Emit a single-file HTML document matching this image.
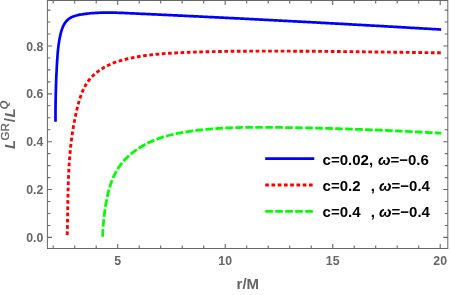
<!DOCTYPE html>
<html><head><meta charset="utf-8"><title>Plot</title>
<style>
html,body{margin:0;padding:0;background:#fff;}
body{width:450px;height:295px;overflow:hidden;font-family:"Liberation Sans",sans-serif;}
svg{display:block;will-change:transform;font-family:"Liberation Sans",sans-serif;}
</style></head><body>
<svg width="450" height="295" viewBox="0 0 450 295">
<rect width="450" height="295" fill="#ffffff"/>
<rect x="47.4" y="0.5" width="400.40000000000003" height="248.0" fill="none" stroke="#666666" stroke-width="1"/>
<path d="M53.20,248.5 v-3.0 M53.20,0.5 v3.0 M74.70,248.5 v-3.0 M74.70,0.5 v3.0 M96.20,248.5 v-3.0 M96.20,0.5 v3.0 M117.70,248.5 v-4.5 M117.70,0.5 v4.5 M139.20,248.5 v-3.0 M139.20,0.5 v3.0 M160.70,248.5 v-3.0 M160.70,0.5 v3.0 M182.20,248.5 v-3.0 M182.20,0.5 v3.0 M203.70,248.5 v-3.0 M203.70,0.5 v3.0 M225.20,248.5 v-4.5 M225.20,0.5 v4.5 M246.70,248.5 v-3.0 M246.70,0.5 v3.0 M268.20,248.5 v-3.0 M268.20,0.5 v3.0 M289.70,248.5 v-3.0 M289.70,0.5 v3.0 M311.20,248.5 v-3.0 M311.20,0.5 v3.0 M332.70,248.5 v-4.5 M332.70,0.5 v4.5 M354.20,248.5 v-3.0 M354.20,0.5 v3.0 M375.70,248.5 v-3.0 M375.70,0.5 v3.0 M397.20,248.5 v-3.0 M397.20,0.5 v3.0 M418.70,248.5 v-3.0 M418.70,0.5 v3.0 M440.20,248.5 v-4.5 M440.20,0.5 v4.5 M47.4,237.40 h4.5 M447.8,237.40 h-4.5 M47.4,225.44 h3.0 M447.8,225.44 h-3.0 M47.4,213.47 h3.0 M447.8,213.47 h-3.0 M47.4,201.51 h3.0 M447.8,201.51 h-3.0 M47.4,189.55 h4.5 M447.8,189.55 h-4.5 M47.4,177.59 h3.0 M447.8,177.59 h-3.0 M47.4,165.62 h3.0 M447.8,165.62 h-3.0 M47.4,153.66 h3.0 M447.8,153.66 h-3.0 M47.4,141.70 h4.5 M447.8,141.70 h-4.5 M47.4,129.74 h3.0 M447.8,129.74 h-3.0 M47.4,117.78 h3.0 M447.8,117.78 h-3.0 M47.4,105.81 h3.0 M447.8,105.81 h-3.0 M47.4,93.85 h4.5 M447.8,93.85 h-4.5 M47.4,81.89 h3.0 M447.8,81.89 h-3.0 M47.4,69.92 h3.0 M447.8,69.92 h-3.0 M47.4,57.96 h3.0 M447.8,57.96 h-3.0 M47.4,46.00 h4.5 M447.8,46.00 h-4.5 M47.4,34.04 h3.0 M447.8,34.04 h-3.0 M47.4,22.07 h3.0 M447.8,22.07 h-3.0 M47.4,10.11 h3.0 M447.8,10.11 h-3.0" stroke="#666666" stroke-width="1.1" fill="none"/>
<path d="M55.50,121.70 L55.50,120.51 L55.50,119.32 L55.50,118.12 L55.50,116.93 L55.50,115.73 L55.50,114.53 L55.51,113.33 L55.52,112.13 L55.52,110.93 L55.53,109.73 L55.54,108.53 L55.55,107.33 L55.56,106.13 L55.58,104.92 L55.59,103.72 L55.61,102.51 L55.63,101.31 L55.65,100.10 L55.67,98.90 L55.69,97.69 L55.71,96.49 L55.74,95.28 L55.76,94.07 L55.79,92.87 L55.82,91.66 L55.85,90.45 L55.89,89.25 L55.92,88.04 L55.96,86.83 L55.99,85.63 L56.03,84.42 L56.07,83.22 L56.12,82.01 L56.16,80.81 L56.21,79.60 L56.25,78.40 L56.30,77.20 L56.35,76.00 L56.41,74.79 L56.46,73.59 L56.52,72.39 L56.58,71.19 L56.64,70.00 L56.70,68.80 L56.76,67.60 L56.83,66.41 L56.89,65.21 L56.96,64.02 L57.04,62.83 L57.11,61.64 L57.19,60.45 L57.26,59.26 L57.34,58.08 L57.43,56.89 L57.51,55.71 L57.60,54.52 L57.70,53.34 L57.80,52.16 L57.91,50.98 L58.03,49.79 L58.16,48.61 L58.29,47.42 L58.43,46.24 L58.59,45.05 L58.75,43.87 L58.93,42.68 L59.11,41.49 L59.32,40.29 L59.53,39.10 L59.76,37.90 L60.00,36.70 L60.26,35.50 L60.54,34.29 L60.84,33.09 L61.15,31.88 L61.50,30.69 L61.87,29.50 L62.28,28.33 L62.73,27.18 L63.22,26.06 L63.77,24.97 L64.36,23.92 L65.01,22.91 L65.71,21.94 L66.47,21.04 L67.29,20.20 L68.15,19.43 L69.06,18.73 L70.02,18.11 L71.02,17.54 L72.05,17.03 L73.12,16.57 L74.22,16.17 L75.35,15.80 L76.49,15.48 L77.66,15.19 L78.84,14.93 L80.03,14.70 L81.23,14.49 L82.44,14.30 L83.64,14.12 L84.85,13.95 L86.05,13.79 L87.25,13.65 L88.46,13.51 L89.66,13.39 L90.86,13.27 L92.07,13.17 L93.27,13.08 L94.47,12.99 L95.67,12.92 L96.88,12.85 L98.08,12.79 L99.28,12.74 L100.48,12.70 L101.68,12.66 L102.88,12.63 L104.09,12.61 L105.29,12.60 L106.49,12.59 L107.69,12.59 L108.89,12.59 L110.09,12.60 L111.29,12.61 L112.49,12.63 L113.69,12.66 L114.89,12.69 L116.09,12.72 L117.29,12.75 L118.49,12.79 L119.69,12.83 L120.89,12.88 L122.09,12.92 L123.29,12.97 L124.49,13.02 L125.69,13.07 L126.89,13.13 L128.09,13.18 L129.29,13.23 L130.49,13.29 L131.69,13.34 L132.89,13.40 L134.09,13.45 L135.29,13.51 L136.49,13.56 L137.69,13.62 L138.89,13.67 L140.09,13.73 L141.29,13.78 L142.49,13.84 L143.69,13.89 L144.89,13.95 L146.08,14.01 L147.28,14.06 L148.48,14.12 L149.68,14.17 L150.88,14.23 L152.08,14.28 L153.28,14.34 L154.48,14.40 L155.68,14.45 L156.88,14.51 L158.08,14.56 L159.28,14.62 L160.48,14.68 L161.68,14.73 L162.88,14.79 L164.08,14.84 L165.28,14.90 L166.48,14.96 L167.68,15.01 L168.88,15.07 L170.08,15.13 L171.28,15.18 L172.48,15.24 L173.68,15.30 L174.88,15.36 L176.08,15.41 L177.28,15.47 L178.48,15.53 L179.68,15.58 L180.88,15.64 L182.08,15.70 L183.28,15.76 L184.48,15.81 L185.68,15.87 L186.88,15.93 L188.08,15.99 L189.28,16.04 L190.48,16.10 L191.68,16.16 L192.88,16.22 L194.08,16.28 L195.28,16.33 L196.48,16.39 L197.68,16.45 L198.88,16.51 L200.08,16.57 L201.28,16.62 L202.48,16.68 L203.68,16.74 L204.88,16.80 L206.08,16.86 L207.28,16.92 L208.48,16.98 L209.68,17.03 L210.88,17.09 L212.08,17.15 L213.28,17.21 L214.48,17.27 L215.68,17.33 L216.88,17.39 L218.08,17.45 L219.28,17.51 L220.47,17.57 L221.67,17.63 L222.87,17.69 L224.07,17.74 L225.27,17.80 L226.47,17.86 L227.67,17.92 L228.87,17.98 L230.07,18.04 L231.27,18.10 L232.47,18.16 L233.67,18.22 L234.87,18.28 L236.07,18.34 L237.27,18.40 L238.47,18.46 L239.67,18.52 L240.87,18.59 L242.07,18.65 L243.27,18.71 L244.47,18.77 L245.67,18.83 L246.87,18.89 L248.07,18.95 L249.27,19.01 L250.47,19.07 L251.67,19.13 L252.87,19.19 L254.07,19.25 L255.27,19.31 L256.47,19.38 L257.67,19.44 L258.87,19.50 L260.07,19.56 L261.27,19.62 L262.47,19.68 L263.67,19.74 L264.87,19.81 L266.07,19.87 L267.27,19.93 L268.47,19.99 L269.67,20.05 L270.87,20.12 L272.07,20.18 L273.27,20.24 L274.47,20.30 L275.67,20.36 L276.87,20.43 L278.07,20.49 L279.27,20.55 L280.47,20.61 L281.67,20.68 L282.87,20.74 L284.07,20.80 L285.27,20.86 L286.47,20.93 L287.67,20.99 L288.87,21.05 L290.07,21.12 L291.27,21.18 L292.47,21.24 L293.67,21.31 L294.87,21.37 L296.07,21.43 L297.27,21.50 L298.47,21.56 L299.66,21.62 L300.86,21.69 L302.06,21.75 L303.26,21.81 L304.46,21.88 L305.66,21.94 L306.86,22.00 L308.06,22.07 L309.26,22.13 L310.46,22.20 L311.66,22.26 L312.86,22.32 L314.06,22.39 L315.26,22.45 L316.46,22.52 L317.66,22.58 L318.86,22.65 L320.06,22.71 L321.26,22.78 L322.46,22.84 L323.66,22.90 L324.86,22.97 L326.06,23.03 L327.26,23.10 L328.46,23.16 L329.66,23.23 L330.86,23.29 L332.06,23.36 L333.26,23.42 L334.46,23.49 L335.66,23.56 L336.86,23.62 L338.06,23.69 L339.26,23.75 L340.45,23.82 L341.65,23.88 L342.85,23.95 L344.05,24.01 L345.25,24.08 L346.45,24.15 L347.65,24.21 L348.85,24.28 L350.05,24.34 L351.25,24.41 L352.45,24.48 L353.65,24.54 L354.85,24.61 L356.05,24.68 L357.25,24.74 L358.45,24.81 L359.65,24.88 L360.85,24.94 L362.05,25.01 L363.25,25.08 L364.45,25.14 L365.65,25.21 L366.85,25.28 L368.04,25.34 L369.24,25.41 L370.44,25.48 L371.64,25.54 L372.84,25.61 L374.04,25.68 L375.24,25.75 L376.44,25.81 L377.64,25.88 L378.84,25.95 L380.04,26.02 L381.24,26.08 L382.44,26.15 L383.64,26.22 L384.84,26.29 L386.04,26.36 L387.24,26.42 L388.44,26.49 L389.63,26.56 L390.83,26.63 L392.03,26.70 L393.23,26.77 L394.43,26.83 L395.63,26.90 L396.83,26.97 L398.03,27.04 L399.23,27.11 L400.43,27.18 L401.63,27.25 L402.83,27.31 L404.03,27.38 L405.23,27.45 L406.43,27.52 L407.62,27.59 L408.82,27.66 L410.02,27.73 L411.22,27.80 L412.42,27.87 L413.62,27.94 L414.82,28.01 L416.02,28.08 L417.22,28.15 L418.42,28.22 L419.62,28.28 L420.82,28.35 L422.01,28.42 L423.21,28.49 L424.41,28.56 L425.61,28.63 L426.81,28.70 L428.01,28.77 L429.21,28.84 L430.41,28.91 L431.61,28.99 L432.81,29.06 L434.01,29.13 L435.20,29.20 L436.40,29.27 L437.60,29.34 L438.80,29.41 L440.00,29.48 L441.20,29.55" fill="none" stroke="#0000ff" stroke-width="2.7" stroke-linejoin="round"/>
<path d="M67.20,235.10 L67.24,233.81 L67.27,232.53 L67.31,231.24 L67.34,229.95 L67.37,228.66 L67.40,227.37 L67.43,226.08 L67.46,224.79 L67.48,223.49 L67.51,222.20 L67.53,220.91 L67.56,219.61 L67.58,218.32 L67.60,217.02 L67.63,215.72 L67.65,214.43 L67.67,213.13 L67.69,211.83 L67.71,210.53 L67.73,209.23 L67.76,207.93 L67.78,206.63 L67.80,205.33 L67.82,204.03 L67.84,202.73 L67.87,201.43 L67.89,200.13 L67.91,198.83 L67.94,197.53 L67.97,196.23 L67.99,194.93 L68.02,193.63 L68.05,192.33 L68.08,191.02 L68.12,189.72 L68.15,188.42 L68.19,187.12 L68.22,185.82 L68.26,184.52 L68.30,183.22 L68.35,181.92 L68.39,180.62 L68.44,179.32 L68.49,178.02 L68.54,176.72 L68.60,175.42 L68.65,174.12 L68.71,172.82 L68.78,171.52 L68.84,170.23 L68.91,168.93 L68.98,167.63 L69.05,166.34 L69.13,165.04 L69.21,163.75 L69.30,162.46 L69.39,161.16 L69.48,159.87 L69.57,158.58 L69.67,157.29 L69.78,156.00 L69.88,154.71 L69.99,153.42 L70.11,152.13 L70.23,150.85 L70.35,149.56 L70.48,148.27 L70.61,146.99 L70.75,145.71 L70.89,144.43 L71.04,143.15 L71.19,141.87 L71.35,140.59 L71.51,139.31 L71.68,138.04 L71.85,136.76 L72.03,135.49 L72.21,134.21 L72.40,132.94 L72.60,131.67 L72.80,130.39 L73.00,129.12 L73.21,127.85 L73.43,126.58 L73.65,125.31 L73.88,124.04 L74.12,122.77 L74.36,121.49 L74.60,120.22 L74.85,118.95 L75.11,117.68 L75.38,116.41 L75.65,115.13 L75.93,113.86 L76.21,112.59 L76.50,111.31 L76.80,110.04 L77.10,108.76 L77.41,107.48 L77.73,106.20 L78.06,104.93 L78.40,103.66 L78.75,102.39 L79.11,101.12 L79.48,99.86 L79.87,98.61 L80.28,97.36 L80.70,96.12 L81.14,94.90 L81.59,93.68 L82.07,92.47 L82.57,91.28 L83.08,90.09 L83.63,88.93 L84.19,87.77 L84.78,86.64 L85.39,85.52 L86.04,84.42 L86.71,83.34 L87.40,82.28 L88.13,81.24 L88.89,80.22 L89.68,79.23 L90.50,78.26 L91.36,77.31 L92.24,76.39 L93.15,75.49 L94.08,74.61 L95.05,73.76 L96.03,72.92 L97.04,72.12 L98.08,71.33 L99.13,70.57 L100.20,69.83 L101.29,69.11 L102.40,68.42 L103.53,67.75 L104.67,67.10 L105.82,66.47 L106.99,65.87 L108.17,65.29 L109.36,64.73 L110.56,64.19 L111.76,63.67 L112.98,63.18 L114.19,62.71 L115.42,62.26 L116.65,61.83 L117.88,61.42 L119.11,61.03 L120.35,60.66 L121.60,60.31 L122.84,59.96 L124.09,59.64 L125.35,59.33 L126.60,59.03 L127.86,58.74 L129.12,58.46 L130.39,58.19 L131.65,57.93 L132.92,57.67 L134.19,57.42 L135.46,57.18 L136.74,56.95 L138.01,56.72 L139.29,56.50 L140.57,56.29 L141.85,56.08 L143.13,55.88 L144.41,55.69 L145.69,55.51 L146.98,55.34 L148.26,55.17 L149.55,55.01 L150.83,54.86 L152.12,54.71 L153.41,54.57 L154.70,54.44 L155.99,54.31 L157.28,54.19 L158.57,54.07 L159.86,53.96 L161.15,53.86 L162.44,53.76 L163.73,53.66 L165.03,53.57 L166.32,53.48 L167.61,53.39 L168.91,53.31 L170.20,53.23 L171.50,53.16 L172.79,53.08 L174.09,53.01 L175.38,52.94 L176.68,52.88 L177.97,52.81 L179.27,52.75 L180.56,52.68 L181.86,52.62 L183.15,52.57 L184.45,52.51 L185.74,52.45 L187.04,52.40 L188.33,52.35 L189.63,52.29 L190.92,52.25 L192.22,52.20 L193.51,52.15 L194.81,52.11 L196.10,52.06 L197.40,52.02 L198.70,51.98 L199.99,51.94 L201.29,51.90 L202.58,51.86 L203.88,51.83 L205.18,51.79 L206.47,51.76 L207.77,51.73 L209.06,51.69 L210.36,51.66 L211.65,51.63 L212.95,51.61 L214.25,51.58 L215.54,51.55 L216.84,51.53 L218.14,51.51 L219.43,51.48 L220.73,51.46 L222.02,51.44 L223.32,51.42 L224.62,51.40 L225.91,51.38 L227.21,51.37 L228.51,51.35 L229.80,51.33 L231.10,51.32 L232.39,51.30 L233.69,51.29 L234.99,51.28 L236.28,51.27 L237.58,51.25 L238.88,51.24 L240.17,51.23 L241.47,51.22 L242.77,51.21 L244.06,51.21 L245.36,51.20 L246.66,51.19 L247.95,51.18 L249.25,51.18 L250.54,51.17 L251.84,51.16 L253.14,51.16 L254.43,51.15 L255.73,51.15 L257.03,51.15 L258.32,51.14 L259.62,51.14 L260.92,51.14 L262.21,51.13 L263.51,51.13 L264.80,51.13 L266.10,51.13 L267.40,51.13 L268.69,51.13 L269.99,51.13 L271.29,51.13 L272.58,51.13 L273.88,51.13 L275.18,51.13 L276.47,51.13 L277.77,51.13 L279.06,51.13 L280.36,51.14 L281.66,51.14 L282.95,51.14 L284.25,51.14 L285.55,51.15 L286.84,51.15 L288.14,51.16 L289.44,51.16 L290.73,51.17 L292.03,51.17 L293.32,51.18 L294.62,51.18 L295.92,51.19 L297.21,51.20 L298.51,51.20 L299.81,51.21 L301.10,51.22 L302.40,51.22 L303.70,51.23 L304.99,51.24 L306.29,51.25 L307.58,51.26 L308.88,51.27 L310.18,51.27 L311.47,51.28 L312.77,51.29 L314.07,51.30 L315.36,51.31 L316.66,51.32 L317.95,51.33 L319.25,51.34 L320.55,51.36 L321.84,51.37 L323.14,51.38 L324.44,51.39 L325.73,51.40 L327.03,51.41 L328.32,51.43 L329.62,51.44 L330.92,51.45 L332.21,51.46 L333.51,51.48 L334.81,51.49 L336.10,51.50 L337.40,51.52 L338.69,51.53 L339.99,51.54 L341.29,51.56 L342.58,51.57 L343.88,51.58 L345.18,51.60 L346.47,51.61 L347.77,51.63 L349.06,51.64 L350.36,51.66 L351.66,51.67 L352.95,51.69 L354.25,51.70 L355.55,51.72 L356.84,51.73 L358.14,51.75 L359.43,51.77 L360.73,51.78 L362.03,51.80 L363.32,51.81 L364.62,51.83 L365.92,51.84 L367.21,51.86 L368.51,51.88 L369.80,51.89 L371.10,51.91 L372.40,51.93 L373.69,51.94 L374.99,51.96 L376.29,51.98 L377.58,51.99 L378.88,52.01 L380.17,52.03 L381.47,52.04 L382.77,52.06 L384.06,52.08 L385.36,52.09 L386.66,52.11 L387.95,52.13 L389.25,52.15 L390.54,52.16 L391.84,52.18 L393.14,52.20 L394.43,52.21 L395.73,52.23 L397.03,52.25 L398.32,52.27 L399.62,52.28 L400.91,52.30 L402.21,52.32 L403.51,52.33 L404.80,52.35 L406.10,52.37 L407.40,52.38 L408.69,52.40 L409.99,52.42 L411.29,52.43 L412.58,52.45 L413.88,52.47 L415.17,52.48 L416.47,52.50 L417.77,52.52 L419.06,52.53 L420.36,52.55 L421.66,52.57 L422.95,52.58 L424.25,52.60 L425.54,52.62 L426.84,52.63 L428.14,52.65 L429.43,52.66 L430.73,52.68 L432.03,52.69 L433.32,52.71 L434.62,52.73 L435.91,52.74 L437.21,52.76 L438.51,52.77 L439.80,52.79 L441.10,52.80" fill="none" stroke="#ff0000" stroke-width="2.9" stroke-dasharray="3.7 2.559" stroke-linejoin="round"/>
<path d="M102.60,236.70 L102.64,235.69 L102.69,234.67 L102.74,233.65 L102.79,232.64 L102.84,231.62 L102.90,230.61 L102.96,229.59 L103.03,228.58 L103.09,227.56 L103.17,226.55 L103.24,225.53 L103.32,224.52 L103.40,223.50 L103.49,222.49 L103.58,221.47 L103.68,220.46 L103.78,219.45 L103.88,218.43 L103.99,217.42 L104.10,216.41 L104.22,215.40 L104.35,214.39 L104.47,213.38 L104.61,212.37 L104.75,211.36 L104.89,210.35 L105.04,209.34 L105.19,208.34 L105.35,207.33 L105.51,206.33 L105.68,205.33 L105.86,204.32 L106.03,203.32 L106.21,202.32 L106.40,201.33 L106.59,200.33 L106.78,199.34 L106.97,198.34 L107.17,197.35 L107.38,196.36 L107.59,195.38 L107.80,194.39 L108.03,193.41 L108.26,192.42 L108.50,191.44 L108.76,190.46 L109.02,189.48 L109.29,188.50 L109.58,187.52 L109.88,186.54 L110.19,185.57 L110.51,184.60 L110.84,183.63 L111.18,182.67 L111.54,181.71 L111.91,180.75 L112.29,179.80 L112.68,178.86 L113.08,177.92 L113.50,176.98 L113.93,176.05 L114.37,175.13 L114.82,174.21 L115.29,173.31 L115.77,172.41 L116.26,171.51 L116.77,170.63 L117.29,169.75 L117.82,168.88 L118.37,168.03 L118.93,167.18 L119.50,166.34 L120.08,165.51 L120.68,164.69 L121.30,163.89 L121.93,163.09 L122.57,162.31 L123.22,161.54 L123.89,160.78 L124.57,160.03 L125.26,159.29 L125.96,158.56 L126.68,157.84 L127.41,157.14 L128.14,156.44 L128.89,155.76 L129.65,155.08 L130.42,154.42 L131.20,153.76 L131.98,153.12 L132.78,152.49 L133.58,151.87 L134.40,151.25 L135.22,150.65 L136.05,150.06 L136.88,149.48 L137.73,148.90 L138.58,148.34 L139.44,147.79 L140.30,147.25 L141.17,146.71 L142.05,146.19 L142.93,145.68 L143.82,145.18 L144.71,144.68 L145.61,144.20 L146.52,143.73 L147.43,143.26 L148.34,142.81 L149.26,142.37 L150.19,141.94 L151.11,141.51 L152.05,141.10 L152.98,140.70 L153.92,140.30 L154.86,139.92 L155.81,139.55 L156.76,139.18 L157.71,138.83 L158.66,138.48 L159.62,138.15 L160.58,137.82 L161.55,137.50 L162.51,137.19 L163.48,136.89 L164.45,136.59 L165.43,136.31 L166.40,136.03 L167.38,135.76 L168.36,135.50 L169.34,135.24 L170.33,134.99 L171.31,134.75 L172.30,134.52 L173.29,134.29 L174.28,134.07 L175.28,133.85 L176.27,133.64 L177.27,133.44 L178.27,133.24 L179.27,133.05 L180.27,132.86 L181.27,132.68 L182.27,132.51 L183.28,132.33 L184.28,132.17 L185.29,132.01 L186.29,131.85 L187.30,131.69 L188.31,131.54 L189.32,131.40 L190.33,131.25 L191.33,131.11 L192.34,130.98 L193.35,130.85 L194.36,130.72 L195.37,130.59 L196.38,130.46 L197.40,130.34 L198.41,130.23 L199.42,130.11 L200.43,130.00 L201.44,129.89 L202.45,129.78 L203.46,129.68 L204.47,129.58 L205.49,129.48 L206.50,129.38 L207.51,129.29 L208.52,129.20 L209.54,129.11 L210.55,129.02 L211.56,128.94 L212.58,128.86 L213.59,128.78 L214.60,128.70 L215.62,128.63 L216.63,128.56 L217.65,128.49 L218.66,128.42 L219.67,128.36 L220.69,128.30 L221.70,128.24 L222.72,128.18 L223.73,128.12 L224.75,128.07 L225.76,128.02 L226.78,127.97 L227.79,127.92 L228.81,127.88 L229.82,127.83 L230.84,127.79 L231.86,127.75 L232.87,127.71 L233.89,127.68 L234.90,127.64 L235.92,127.61 L236.94,127.58 L237.95,127.55 L238.97,127.52 L239.99,127.50 L241.00,127.47 L242.02,127.45 L243.04,127.43 L244.05,127.41 L245.07,127.39 L246.09,127.37 L247.10,127.36 L248.12,127.35 L249.14,127.33 L250.16,127.32 L251.17,127.31 L252.19,127.30 L253.21,127.30 L254.23,127.29 L255.24,127.28 L256.26,127.28 L257.28,127.28 L258.30,127.28 L259.31,127.28 L260.33,127.28 L261.35,127.28 L262.37,127.28 L263.38,127.28 L264.40,127.29 L265.42,127.29 L266.44,127.30 L267.46,127.31 L268.47,127.31 L269.49,127.32 L270.51,127.33 L271.53,127.34 L272.55,127.35 L273.56,127.36 L274.58,127.37 L275.60,127.39 L276.62,127.40 L277.64,127.41 L278.65,127.42 L279.67,127.44 L280.69,127.45 L281.71,127.47 L282.73,127.48 L283.74,127.50 L284.76,127.51 L285.78,127.53 L286.80,127.55 L287.82,127.56 L288.83,127.58 L289.85,127.60 L290.87,127.61 L291.89,127.63 L292.90,127.65 L293.92,127.67 L294.94,127.69 L295.96,127.70 L296.97,127.72 L297.99,127.74 L299.01,127.76 L300.03,127.78 L301.04,127.80 L302.06,127.82 L303.08,127.84 L304.09,127.86 L305.11,127.88 L306.13,127.90 L307.15,127.93 L308.16,127.95 L309.18,127.97 L310.20,127.99 L311.22,128.01 L312.23,128.04 L313.25,128.06 L314.27,128.08 L315.28,128.11 L316.30,128.13 L317.32,128.15 L318.33,128.18 L319.35,128.20 L320.37,128.23 L321.38,128.25 L322.40,128.28 L323.42,128.30 L324.44,128.33 L325.45,128.36 L326.47,128.38 L327.49,128.41 L328.50,128.44 L329.52,128.46 L330.54,128.49 L331.55,128.52 L332.57,128.55 L333.59,128.58 L334.60,128.60 L335.62,128.63 L336.64,128.66 L337.65,128.69 L338.67,128.72 L339.69,128.75 L340.70,128.78 L341.72,128.81 L342.73,128.84 L343.75,128.87 L344.77,128.91 L345.78,128.94 L346.80,128.97 L347.82,129.00 L348.83,129.03 L349.85,129.07 L350.87,129.10 L351.88,129.13 L352.90,129.17 L353.91,129.20 L354.93,129.24 L355.95,129.27 L356.96,129.31 L357.98,129.34 L359.00,129.38 L360.01,129.41 L361.03,129.45 L362.04,129.48 L363.06,129.52 L364.08,129.56 L365.09,129.59 L366.11,129.63 L367.13,129.67 L368.14,129.71 L369.16,129.75 L370.17,129.78 L371.19,129.82 L372.21,129.86 L373.22,129.90 L374.24,129.94 L375.25,129.98 L376.27,130.02 L377.29,130.06 L378.30,130.10 L379.32,130.14 L380.34,130.19 L381.35,130.23 L382.37,130.27 L383.38,130.31 L384.40,130.36 L385.42,130.40 L386.43,130.44 L387.45,130.49 L388.46,130.53 L389.48,130.57 L390.50,130.62 L391.51,130.66 L392.53,130.71 L393.54,130.75 L394.56,130.80 L395.58,130.85 L396.59,130.89 L397.61,130.94 L398.62,130.99 L399.64,131.03 L400.66,131.08 L401.67,131.13 L402.69,131.18 L403.70,131.23 L404.72,131.28 L405.74,131.32 L406.75,131.37 L407.77,131.42 L408.78,131.47 L409.80,131.53 L410.82,131.58 L411.83,131.63 L412.85,131.68 L413.86,131.73 L414.88,131.78 L415.90,131.83 L416.91,131.89 L417.93,131.94 L418.94,131.99 L419.96,132.05 L420.98,132.10 L421.99,132.16 L423.01,132.21 L424.03,132.27 L425.04,132.32 L426.06,132.38 L427.07,132.43 L428.09,132.49 L429.11,132.55 L430.12,132.60 L431.14,132.66 L432.15,132.72 L433.17,132.78 L434.19,132.83 L435.20,132.89 L436.22,132.95 L437.24,133.01 L438.25,133.07 L439.27,133.13 L440.28,133.19 L441.30,133.25" fill="none" stroke="#00ff00" stroke-width="2.8" stroke-dasharray="7.7 2.286" stroke-linejoin="round"/>
<path d="M265.2,158.7 H314.3" stroke="#0000ff" stroke-width="2.7"/>
<path d="M265.2,185 H314.3" stroke="#ff0000" stroke-width="2.9" stroke-dasharray="3.7 2.55"/>
<path d="M265.2,211.3 H314.3" stroke="#00ff00" stroke-width="2.8" stroke-dasharray="7.7 2.3"/>
<text x="43.3" y="241.90" text-anchor="end" font-size="12.3" font-weight="bold" fill="#666666">0.0</text>
<text x="43.3" y="194.05" text-anchor="end" font-size="12.3" font-weight="bold" fill="#666666">0.2</text>
<text x="43.3" y="146.20" text-anchor="end" font-size="12.3" font-weight="bold" fill="#666666">0.4</text>
<text x="43.3" y="98.35" text-anchor="end" font-size="12.3" font-weight="bold" fill="#666666">0.6</text>
<text x="43.3" y="50.50" text-anchor="end" font-size="12.3" font-weight="bold" fill="#666666">0.8</text>
<text x="117.70" y="264.8" text-anchor="middle" font-size="12.3" font-weight="bold" fill="#666666">5</text>
<text x="225.20" y="264.8" text-anchor="middle" font-size="12.3" font-weight="bold" fill="#666666">10</text>
<text x="332.70" y="264.8" text-anchor="middle" font-size="12.3" font-weight="bold" fill="#666666">15</text>
<text x="440.20" y="264.8" text-anchor="middle" font-size="12.3" font-weight="bold" fill="#666666">20</text>
<text x="247.8" y="288.9" text-anchor="middle" font-size="15" font-weight="bold" fill="#666666">r/M</text>
<g transform="translate(15,148.2) rotate(-90)" font-size="15" font-weight="bold" fill="#666666"><text x="-0.7" y="0" font-style="italic">L</text><text x="7.67" y="-6.2" font-size="11.5" font-weight="normal" stroke="#666666" stroke-width="0.35">GR</text><text x="25.84" y="0">/</text><text x="30.81" y="0" font-style="italic">L</text><text x="38.78" y="-6.8" font-size="11.6" font-style="italic">Q</text></g>
<text x="322.6" y="164.5" font-size="15" font-weight="bold" fill="#000">c=0.02, <tspan dx="0.7" font-style="italic">ω</tspan>=−0.6</text>
<text x="322.6" y="190.5" font-size="15" font-weight="bold" fill="#000">c=0.2</text>
<text x="370.7" y="190.5" font-size="15" font-weight="bold" fill="#000">, <tspan font-style="italic">ω</tspan>=−0.4</text>
<text x="322.6" y="216.5" font-size="15" font-weight="bold" fill="#000">c=0.4</text>
<text x="370.7" y="216.5" font-size="15" font-weight="bold" fill="#000">, <tspan font-style="italic">ω</tspan>=−0.4</text>
</svg>
</body></html>
